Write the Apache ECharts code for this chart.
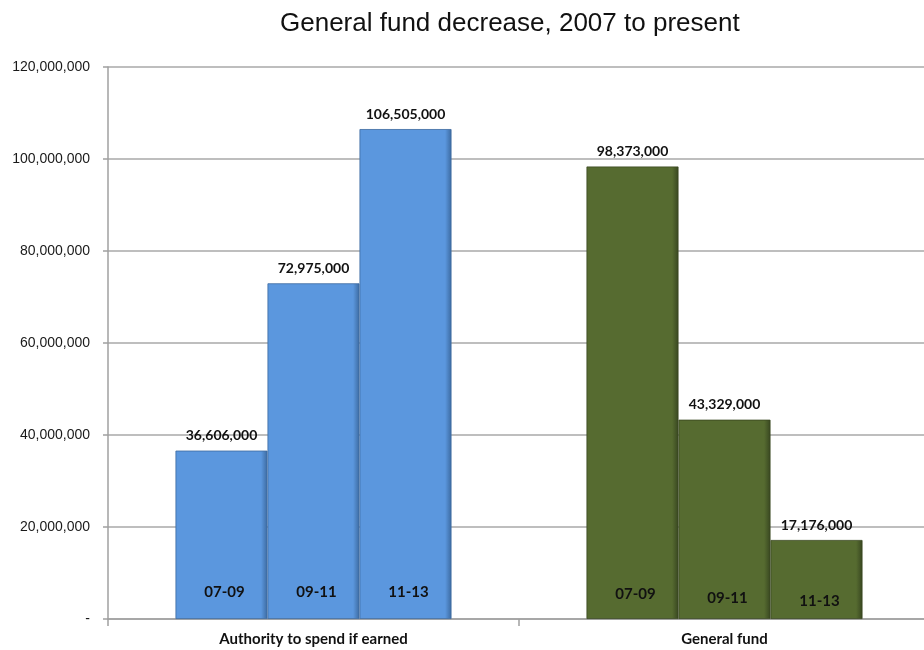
<!DOCTYPE html>
<html><head><meta charset="utf-8">
<script src="https://cdn.jsdelivr.net/npm/echarts@6/dist/echarts.min.js"></script>
<style>html,body{margin:0;padding:0;background:#fff;overflow:hidden;width:924px;height:650px}#c{width:930px;height:650px}</style>
</head><body><div id="c"></div>
<script>
const categories = ['Authority to spend if earned', 'General fund'];
const periods = ['07-09', '09-11', '11-13'];
const values0709 = [36606000, 98373000];
const values0911 = [72975000, 43329000];
const values1113 = [106505000, 17176000];

const chart = echarts.init(document.getElementById('c'));
const colorsByCat = [
  {main:'#5b97de', dark:'#3c6aa0'},
  {main:'#566b30', dark:'#384620'}
];
function grad(i){
  const c = colorsByCat[i];
  return new echarts.graphic.LinearGradient(0,0,1,0,[
    {offset:0,color:c.main},{offset:0.93,color:c.main},{offset:1,color:c.dark}
  ]);
}
// per-category vertical nudge of the period labels inside the bars
const bottomDist = [[19, 17], [19, 13], [19, 10]];
function mkSeries(name, vals){
  return {
    name: name, type:'bar', barWidth:92, barGap:'0%', z:2,
    data: vals.map((v,i)=>({value:v, itemStyle:{color:grad(i), borderColor:colorsByCat[i].dark, borderWidth:0.8},
      label:{show:true, position:'top', distance:8, formatter:(p)=>p.value.toLocaleString('en-US'),
        fontFamily:'Lato', fontWeight:'bold', fontSize:14, color:'#111'}}))
  };
}
const series = [
  mkSeries(periods[0], values0709),
  mkSeries(periods[1], values0911),
  mkSeries(periods[2], values1113)
];
periods.forEach((p, k)=>{
  const src = [values0709, values0911, values1113][k];
  series.push({
    type:'bar', barWidth:92, barGap:'0%', silent:true, z:3, xAxisIndex:1, yAxisIndex:1,
    data: src.map((v,i)=>({value:v, itemStyle:{color:'rgba(0,0,0,0)'},
      label:{show:true, position:'insideBottom', distance: bottomDist[k][i], offset:[3,0],
        formatter:p, fontFamily:'Lato', fontWeight:'bold', fontSize:15, color:'#111'}}))
  });
});

chart.setOption({
  animation:false,
  title:{text:'General fund decrease, 2007 to present', left:275, top:6,
    textStyle:{fontFamily:'Liberation Sans', fontWeight:'normal', fontSize:26, color:'#111'}},
  grid:{left:108, right:0, top:67, bottom:31, containLabel:false},
  xAxis:[{type:'category', data:categories,
    axisLine:{lineStyle:{color:'#a0a0a0', width:1.5}},
    axisTick:{show:true, length:7, lineStyle:{color:'#a0a0a0', width:1.5}},
    axisLabel:{margin:13, fontFamily:'Lato', fontWeight:'bold', fontSize:15, color:'#111'}},
    {type:'category', data:categories, show:false, position:'bottom'}],
  yAxis:[{type:'value', min:0, max:120000000, interval:20000000,
    axisLine:{show:true, lineStyle:{color:'#a0a0a0', width:1.5}},
    axisTick:{show:true, length:5, lineStyle:{color:'#a0a0a0', width:1.5}},
    splitLine:{lineStyle:{color:'#a8a8a8', width:1.5}},
    axisLabel:{margin:18, fontFamily:'Liberation Sans', fontSize:14, color:'#1a1a1a',
      formatter:(v)=> v===0 ? '-' : v.toLocaleString('en-US')}},
    {type:'value', min:0, max:120000000, show:false}],
  series: series
});
</script></body></html>
